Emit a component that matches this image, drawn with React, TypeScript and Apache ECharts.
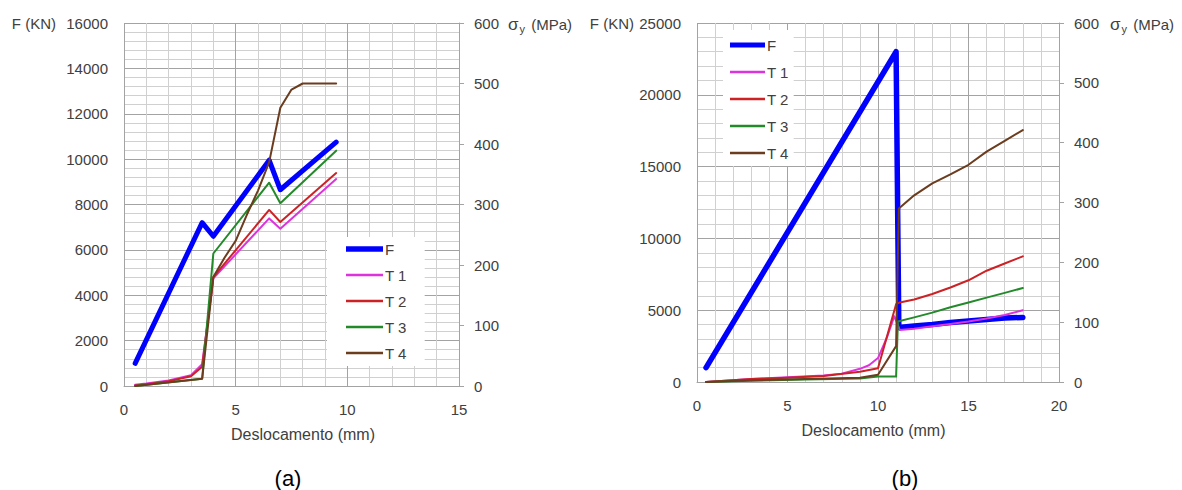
import React, { useEffect, useRef } from "react";
import * as echarts from "echarts";

// ---- Panel (a): load F (kN) and stresses T1..T4 (MPa) vs displacement (mm)
const aFx = [0.5, 3.5, 4, 6.5, 7, 9.5];
const aF = [1000, 7200, 6600, 9950, 8650, 10750];
const aT12x = [0.5, 1, 2, 3, 3.5, 4, 6.5, 7, 9.5];
const aT1 = [2, 4, 9, 18, 36, 178, 277, 260, 342];
const aT2 = [1, 3, 8, 16, 32, 180, 291, 271, 352];
const aT3x = [0.5, 3.5, 4, 6.5, 7, 9.5];
const aT3 = [0, 12, 219, 336, 302, 389];
const aT4x = [0.5, 3.5, 4, 4.5, 5, 5.5, 6, 6.5, 7, 7.5, 8, 9.5];
const aT4 = [0, 12, 180, 212, 240, 283, 323, 370, 460, 490, 500, 500];

// ---- Panel (b)
const bFx = [0.5, 11, 11.15, 12, 13, 14, 15, 16, 17, 18];
const bF = [1000, 23000, 3800, 3900, 4000, 4150, 4250, 4350, 4450, 4500];
const bT1x = [0.5, 3, 5, 7, 8, 9, 9.5, 10, 10.5, 10.9, 11.2, 12, 13, 14, 15, 16, 17, 18];
const bT1 = [0, 5, 8, 11, 14, 22, 28, 40, 75, 110, 87, 89, 93, 97, 101, 106, 112, 120];
const bT2x = [0.5, 3, 5, 7, 9, 10, 11, 11.2, 12, 13, 14, 15, 16, 17, 18];
const bT2 = [0, 5, 7, 10, 17, 23, 130, 133, 138, 147, 158, 170, 186, 198, 210];
const bT3x = [0.5, 3, 6, 9, 10, 11, 11.1, 12, 13, 14, 15, 16, 17, 18];
const bT3 = [0, 2, 4, 6, 9, 9, 101, 108, 116, 125, 133, 141, 149, 157];
const bT4x = [0.5, 3, 6, 9, 10, 11, 11.15, 12, 13, 14, 15, 16, 17, 18];
const bT4 = [0, 3, 5, 7, 12, 60, 290, 312, 332, 347, 363, 385, 403, 421];

const seriesNames = ["F", "T 1", "T 2", "T 3", "T 4"];
const seriesColors = ["#0000ff", "#dd33dd", "#cc2226", "#238a2a", "#6b3c1e"];
const panelLabels = ["(a)", "(b)"];
const xTitle = "Deslocamento (mm)";
const forceTitle = "F (KN)";
const stressTitle = "{s|σ}{y|y} (MPa)";

const FONT = "'Liberation Sans', Arial, sans-serif";
const TXT = "#404040";
const MAJOR = "#a3a3a3";
const MINOR = "#d0d0d0";

const pairs = (xs: number[], ys: number[]) => xs.map((x, i) => [x, ys[i]]);

function xAxis(gridIndex: number, max: number, namePad: number[]) {
  return {
    type: "value",
    gridIndex,
    min: 0,
    max,
    interval: 5,
    name: xTitle,
    nameLocation: "middle",
    nameGap: 40,
    nameTextStyle: { color: TXT, fontSize: 16, fontFamily: FONT, padding: namePad },
    axisLine: { show: true, lineStyle: { color: MAJOR, width: 1 } },
    axisTick: { show: false },
    axisLabel: { color: TXT, fontSize: 15, fontFamily: FONT, margin: 16 },
    splitLine: { show: true, lineStyle: { color: MAJOR, width: 1 } },
    minorTick: { show: false, splitNumber: 5 },
    minorSplitLine: { show: true, lineStyle: { color: MINOR, width: 1 } },
  };
}

function forceAxis(gridIndex: number, max: number, interval: number, pad: number) {
  return {
    type: "value",
    gridIndex,
    position: "left",
    min: 0,
    max,
    interval,
    name: forceTitle,
    nameLocation: "end",
    nameGap: 0,
    nameTextStyle: {
      color: TXT,
      fontSize: 15,
      fontFamily: FONT,
      align: "right",
      verticalAlign: "middle",
      padding: [0, pad, 0, 0],
    },
    axisLine: { show: false },
    axisTick: { show: false },
    axisLabel: { color: TXT, fontSize: 15, fontFamily: FONT, margin: 16, formatter: (v: number) => String(v) },
    splitLine: { show: true, lineStyle: { color: MAJOR, width: 1 } },
    minorTick: { show: false, splitNumber: 5 },
    minorSplitLine: { show: true, lineStyle: { color: MINOR, width: 1 } },
  };
}

function stressAxis(gridIndex: number) {
  return {
    type: "value",
    gridIndex,
    position: "right",
    min: 0,
    max: 600,
    interval: 100,
    axisLine: { show: true, lineStyle: { color: MAJOR, width: 1 } },
    axisTick: { show: true, length: 5, lineStyle: { color: MAJOR } },
    axisLabel: { color: TXT, fontSize: 15, fontFamily: FONT, margin: 15 },
    splitLine: { show: false },
  };
}

// Stress axis title (σ with subscript y), placed beside the top tick label
function stressTitleText(x: number, y: number) {
  return {
    type: "text",
    x,
    y,
    style: {
      text: stressTitle,
      fill: TXT,
      font: `15px ${FONT}`,
      textAlign: "left",
      textVerticalAlign: "middle",
      rich: {
        s: { fontSize: 17, fill: TXT, fontFamily: FONT, lineHeight: 20 },
        y: { fontSize: 11, fill: TXT, fontFamily: FONT, lineHeight: 20, verticalAlign: "bottom", padding: [0, 2, 0, 1] },
      },
    },
  };
}

function line(name: string, data: number[][], xi: number, yi: number, width: number) {
  const color = seriesColors[seriesNames.indexOf(name)];
  return {
    type: "line",
    name,
    xAxisIndex: xi,
    yAxisIndex: yi,
    data,
    color,
    showSymbol: false,
    symbol: "none",
    lineStyle: { color, width, cap: "round", join: "round" },
    itemStyle: { color },
  };
}

const thickIcon = "path://M0,0H36V5.2H0Z";
const thinIcon = "path://M0,0H36V2.4H0Z";
const legendData = seriesNames.map((n, i) => ({ name: n, icon: i === 0 ? thickIcon : thinIcon }));

function legend(left: number, top: number, itemWidth: number, gap: number, padding: number[]) {
  return {
    left,
    top,
    orient: "vertical",
    data: legendData,
    backgroundColor: "#ffffff",
    padding,
    itemWidth,
    itemHeight: 16,
    itemGap: gap,
    itemStyle: { borderWidth: 0 },
    selectedMode: false,
    textStyle: { color: TXT, fontSize: 15, fontFamily: FONT, lineHeight: 16, padding: [0, 0, 0, -3] },
  };
}

function panelLabel(text: string, x: number) {
  return {
    type: "text",
    x,
    y: 478,
    style: {
      text,
      fill: "#000000",
      font: `22px ${FONT}`,
      textAlign: "center",
      textVerticalAlign: "middle",
    },
  };
}

export default function App() {
  const ref = useRef<HTMLDivElement>(null);

  useEffect(() => {
    document.body.style.margin = "0";
    if (!ref.current) return;
    const chart = echarts.init(ref.current, undefined, { renderer: "svg" });
    chart.setOption({
      animation: false,
      backgroundColor: "#ffffff",
      textStyle: { fontFamily: FONT },
      grid: [
        { left: 124, top: 23, width: 335, height: 363 },
        { left: 697, top: 23, width: 362, height: 359 },
      ],
      xAxis: [xAxis(0, 15, [0, 0, 0, 23]), xAxis(1, 20, [0, 9, 0, 0])],
      yAxis: [
        forceAxis(0, 16000, 2000, 68),
        stressAxis(0),
        forceAxis(1, 25000, 5000, 63),
        stressAxis(1),
      ],
      legend: [
        legend(327, 237, 37, 10, [4, 18, 5, 19]),
        legend(723, 30, 35, 11, [7, 5, 5, 7]),
      ],
      series: [
        line("F", pairs(aFx, aF), 0, 0, 5),
        line("T 1", pairs(aT12x, aT1), 0, 1, 2),
        line("T 2", pairs(aT12x, aT2), 0, 1, 2),
        line("T 3", pairs(aT3x, aT3), 0, 1, 2),
        line("T 4", pairs(aT4x, aT4), 0, 1, 2),
        line("F", pairs(bFx, bF), 1, 2, 5.5),
        line("T 1", pairs(bT1x, bT1), 1, 3, 2),
        line("T 2", pairs(bT2x, bT2), 1, 3, 2),
        line("T 3", pairs(bT3x, bT3), 1, 3, 2),
        line("T 4", pairs(bT4x, bT4), 1, 3, 2),
      ],
      graphic: [
        stressTitleText(508, 24),
        stressTitleText(1110, 24),
        panelLabel(panelLabels[0], 288),
        panelLabel(panelLabels[1], 905),
      ],
    });
    return () => chart.dispose();
  }, []);

  return <div ref={ref} style={{ width: 1182, height: 490 }} />;
}
